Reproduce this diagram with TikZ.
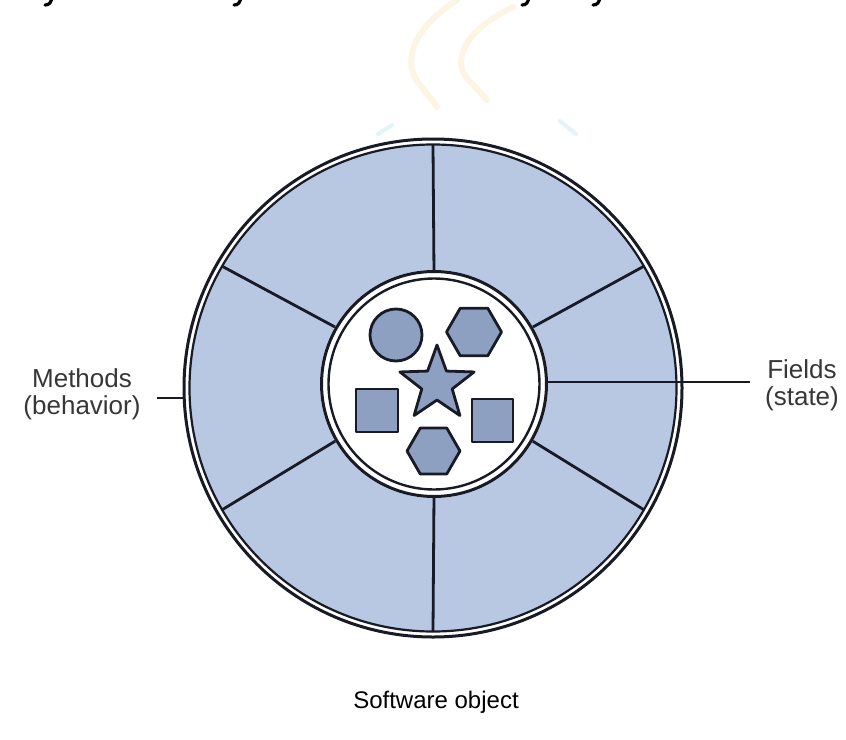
\documentclass[tikz,border=0pt]{standalone}
\usepackage{fontspec}
\setmainfont{Liberation Sans}
\usetikzlibrary{calc}
\definecolor{ringblue}{RGB}{184,200,226}
\definecolor{shapeblue}{RGB}{142,160,194}
\definecolor{ink}{RGB}{24,27,38}
\definecolor{labelgray}{RGB}{55,55,55}
\definecolor{steam}{RGB}{250,222,165}
\definecolor{saucer}{RGB}{185,228,236}
\begin{document}
\begin{tikzpicture}[x=1pt,y=-1pt,
  spoke/.style={ink, line width=2.8pt},
  token/.style={fill=shapeblue, draw=ink, line width=2.8pt, line join=round},
  label/.style={font=\fontsize{26}{27}\selectfont, text=labelgray, align=center, inner sep=0pt},
  leader/.style={ink, line width=2.6pt},
  hook/.style={black, line width=3.2pt, line cap=round},
  wisp/.style={steam, line width=6pt, opacity=.3, line cap=round},
]
\useasboundingbox (0,0) rectangle (846,739);
\fill[white] (0,0) rectangle (846,739);

% descenders of the heading line above
\foreach \x in {49,238,526,597}
  \draw[hook] (\x+3,-4) .. controls (\x+2.5,3) and (\x,5) .. (\x-4,5);

% faint steam and saucer of the backdrop
\draw[wisp] (457,0) .. controls (410,30) and (402,65) .. (420,85)
  .. controls (428,95) and (434,102) .. (437,107);
\draw[wisp] (513,7) .. controls (465,30) and (452,60) .. (467,78)
  .. controls (476,88) and (483,95) .. (487,100);
\draw[saucer, line width=4pt, opacity=.4, line cap=round] (378,134) -- (392,125);
\draw[saucer, line width=4pt, opacity=.4, line cap=round] (560,121) -- (576,134);

% outer wheel: methods
\coordinate (oc) at (433,388);
\coordinate (ic) at (434,384);
\fill[ringblue] (oc) circle[radius=244];
\draw[ink, line width=3pt] (oc) circle[radius=249];
\draw[ink, line width=2.2pt] (oc) circle[radius=243.5];
\foreach \a in {30,90,150,210,270,330}
  \draw[spoke] ($(ic)+(\a:110)$) -- ($(oc)+(\a:243.5)$);

% core: fields
\fill[white] (ic) circle[radius=114];
\draw[ink, line width=3pt] (ic) circle[radius=112.5];
\draw[ink, line width=2.4pt] (ic) circle[radius=105.5];

% state tokens
\draw[token] (396,335) circle[radius=26];
\draw[token] (474,332) +(0:27.5) -- +(60:27.5) -- +(120:27.5) -- +(180:27.5)
  -- +(240:27.5) -- +(300:27.5) -- cycle;
\draw[token] (433.5,451) +(0:26.5) -- +(60:26.5) -- +(120:26.5) -- +(180:26.5)
  -- +(240:26.5) -- +(300:26.5) -- cycle;
\draw[token] (437,384) +(-90:39) -- +(-54:16) -- +(-18:39) -- +(18:16) -- +(54:39)
  -- +(90:16) -- +(126:39) -- +(162:16) -- +(198:39) -- +(234:16) -- cycle;
\draw[token] (356,389) rectangle (398,432);
\draw[token] (472,399) rectangle (513,442);

% labels and leaders
\node[label] (methods) at (82,394) {Methods\\(behavior)};
\coordinate (mtick) at (157,398);
\coordinate (mrim) at (184,398);
\draw[leader] (mtick) -- (mrim);

\node[label] (fields) at (802,385) {Fields\\(state)};
\coordinate (fcore) at (547,382);
\coordinate (ftick) at (750,382);
\draw[leader] (fcore) -- (ftick);

\node[font=\fontsize{24}{28}\selectfont, anchor=base, inner sep=0pt] (caption)
  at (436,708) {Software object};
\end{tikzpicture}
\end{document}
